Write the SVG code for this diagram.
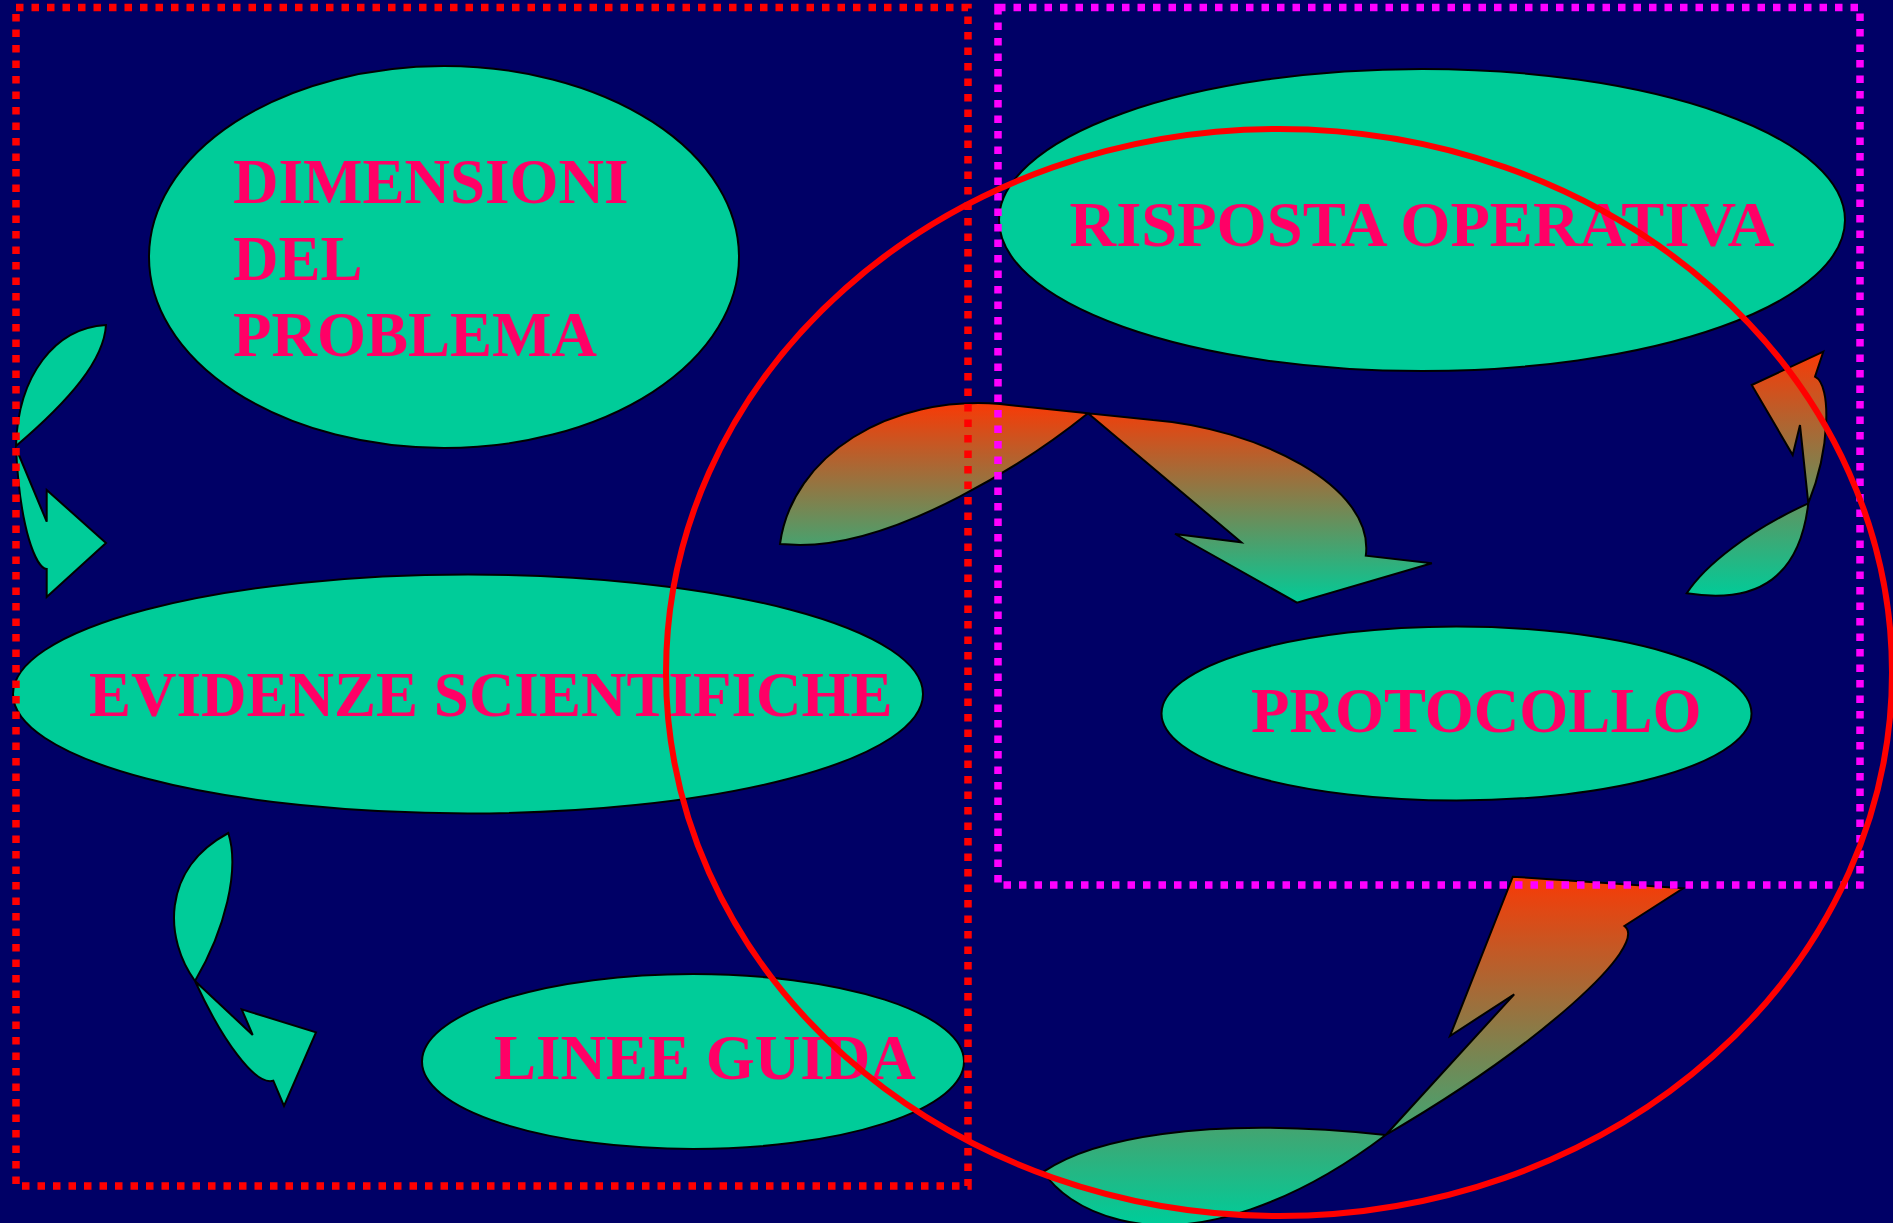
<svg xmlns="http://www.w3.org/2000/svg" width="1893" height="1223" viewBox="0 0 1893 1223">
<defs>
<style>
.node{fill:#00CC99;stroke:#000;stroke-width:2}
.lbl{font-family:"Liberation Serif","Times New Roman",serif;font-weight:bold;font-size:63px;fill:#FF0066}
.arr{stroke:#000;stroke-width:2;stroke-linejoin:miter}
.solid{fill:#00CC99}
.frame{fill:none;stroke-width:7.5;stroke-dasharray:7.5 8}
</style>
<linearGradient id="gC" gradientUnits="userSpaceOnUse" x1="0" y1="404" x2="0" y2="603">
<stop offset="0" stop-color="#F83A06"/><stop offset="1" stop-color="#00CC99"/></linearGradient>
<linearGradient id="gD" gradientUnits="userSpaceOnUse" x1="0" y1="877" x2="0" y2="1222">
<stop offset="0" stop-color="#F83A06"/><stop offset="1" stop-color="#00CC99"/></linearGradient>
<linearGradient id="gE" gradientUnits="userSpaceOnUse" x1="0" y1="352" x2="0" y2="597">
<stop offset="0" stop-color="#F83A06"/><stop offset="1" stop-color="#00CC99"/></linearGradient>
</defs>
<rect x="0" y="0" width="1893" height="1223" fill="#000066"/>

<g id="node-dimensioni">
<ellipse class="node" cx="444" cy="257" rx="295" ry="191"/>
<text class="lbl" x="233" y="203">DIMENSIONI</text>
<text class="lbl" x="233" y="280">DEL</text>
<text class="lbl" x="233" y="356">PROBLEMA</text>
</g>
<g id="node-risposta">
<ellipse class="node" cx="1422" cy="220" rx="423" ry="151"/>
<text class="lbl" x="1069.5" y="246" textLength="705" lengthAdjust="spacingAndGlyphs">RISPOSTA OPERATIVA</text>
</g>
<g id="node-evidenze">
<ellipse class="node" cx="468" cy="694" rx="455" ry="119.5"/>
<text class="lbl" x="89" y="716">EVIDENZE SCIENTIFICHE</text>
</g>
<g id="node-protocollo">
<ellipse class="node" cx="1456.5" cy="713.5" rx="295" ry="87"/>
<text class="lbl" x="1251" y="731.5">PROTOCOLLO</text>
</g>
<g id="node-linee">
<ellipse class="node" cx="693" cy="1061.5" rx="271" ry="87.5"/>
<text class="lbl" x="494" y="1079">LINEE GUIDA</text>
</g>

<g id="connectors">
<path class="arr solid" d="M106,325 C55,328 18,375 16,446 C70,400 104,360 106,325 Z M16,448 L46.7,521.7 L46.7,490 L106,543 L46.7,597 L46.7,569 C36,568 20,530 16,448 Z"/>
<path class="arr solid" d="M228.3,833 C160,870 165,940 195,981 C225,930 240,870 228.3,833 Z M195,981 L252.7,1035 L241.7,1009.3 L316,1032.3 L284,1106 L273.3,1080.7 C255,1086 222,1040 195,981 Z"/>
<path class="arr" fill="url(#gC)" d="M780,544 C792,455 890,395 1000,404 L1088,413.3 C1030,460 900,545 800,545 Z M1088,413.3 L1241.3,542.3 L1175,534 L1297,602.7 L1431.9,563.3 L1365.8,555.7 C1375,485 1255,428 1153,420 Z"/>
<path class="arr" fill="url(#gD)" d="M1043.6,1171.7 C1090,1140 1200,1115 1385.7,1135 C1300,1200 1200,1240 1120,1220 C1080,1210 1055,1190 1043.6,1171.7 Z M1385.7,1135 L1514.2,994.3 L1450,1036 L1512.8,876.7 L1683.2,888.3 L1624.4,926 C1650,945 1540,1045 1385.7,1135 Z"/>
<path class="arr" fill="url(#gE)" d="M1686.7,593.3 C1705,565 1750,530 1808.3,503.3 C1800,575 1760,605 1686.7,593.3 Z M1808.3,503.3 L1800,425 L1792.7,455 L1751.7,385 L1823.3,351.7 L1815,376.7 C1832,385 1830,450 1808.3,503.3 Z"/>
</g>

<g id="frames">
<rect class="frame" stroke="#FF0000" x="16" y="7.5" width="952" height="1178.5"/>
<rect class="frame" stroke="#FF00FF" x="998" y="7.5" width="862" height="877.5"/>
<ellipse cx="1279" cy="672.5" rx="613" ry="543.5" fill="none" stroke="#FF0000" stroke-width="6"/>
</g>
</svg>
